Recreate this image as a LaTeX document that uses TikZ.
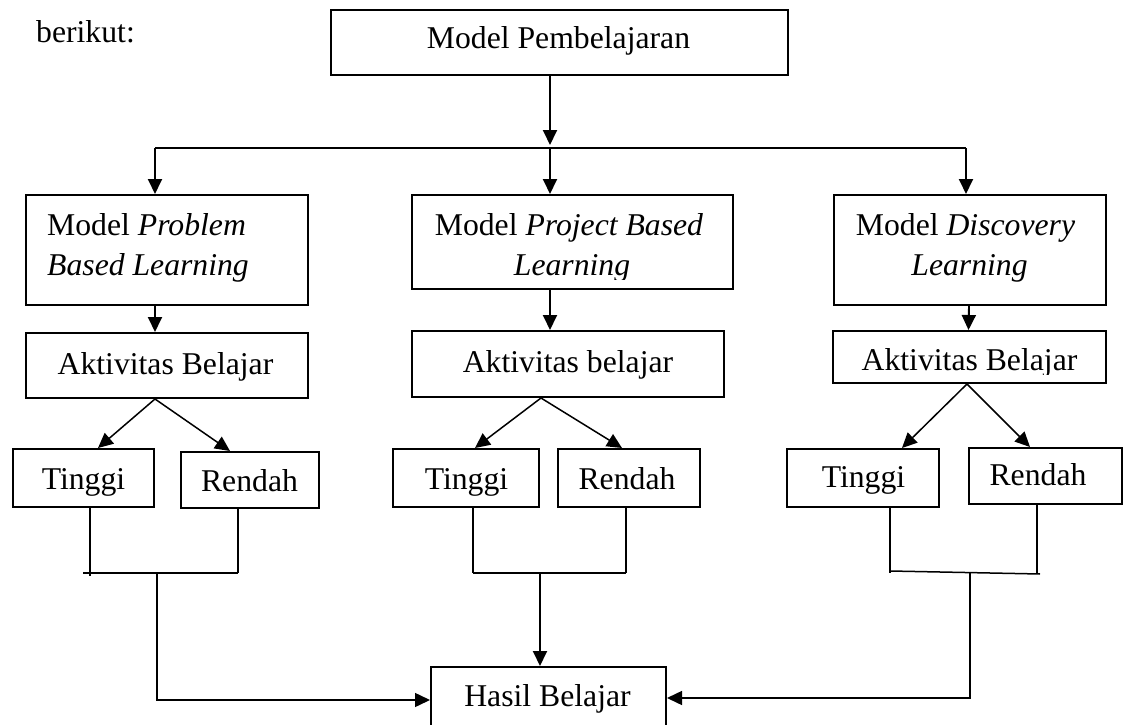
\documentclass[tikz,border=0pt]{standalone}
\usepackage{fontspec}
\setmainfont{Liberation Serif}
\usetikzlibrary{arrows.meta}
\begin{document}
\begin{tikzpicture}[x=1pt,y=-1pt,
  box/.style={draw=black,line width=2pt,rectangle,inner sep=0pt},
  txt/.style={inner sep=0pt,font=\fontsize{31.7}{40}\selectfont,anchor=base},
  ln/.style={draw=black,line width=1.9pt},
  thin/.style={draw=black,line width=1.5pt},
  arr/.style={ln,-{Triangle[length=15pt,width=14pt]}},
  arrt/.style={thin,-{Triangle[length=15pt,width=14pt]}}]
\useasboundingbox (0,0) rectangle (1128,725);
% texts and boxes
\node[txt,anchor=base west] (intro) at (36,43) {berikut:};
\node[box,minimum width=457pt,minimum height=65pt] (top) at (559.5,42.5) {};
\node[txt] (topt) at (558.5,49) {Model Pembelajaran};

\node[box,minimum width=282pt,minimum height=110pt] (pbl) at (167,250) {};
\node[txt,anchor=base west] (pblt1) at (47,235) {Model \textit{Problem}};
\node[txt,anchor=base west] (pblt2) at (47,275) {\textit{Based Learning}};

\node[box,minimum width=321pt,minimum height=94pt] (pjbl) at (572.5,242) {};
\node[txt] (pjblt1) at (569,235) {Model \textit{Project Based}};
\begin{scope}
\clip (420,240) rectangle (725,279);
\node[txt] (pjblt2) at (572,275) {\textit{Learning}};
\end{scope}

\node[box,minimum width=272pt,minimum height=110pt] (dl) at (970,250) {};
\node[txt] (dlt1) at (965.5,235) {Model \textit{Discovery}};
\node[txt] (dlt2) at (969.5,275) {\textit{Learning}};

\node[box,minimum width=282pt,minimum height=65pt] (a1) at (167,365.5) {};
\node[txt] (a1t) at (165.5,374) {Aktivitas Belajar};
\node[box,minimum width=312pt,minimum height=66pt] (a2) at (568,364) {};
\node[txt] (a2t) at (568,372) {Aktivitas belajar};
\node[box,minimum width=273pt,minimum height=52pt] (a3) at (969.5,357) {};
\begin{scope}
\clip (840,335) rectangle (1100,374);
\node[txt] (a3t) at (969.5,370) {Aktivitas Belajar};
\end{scope}

\node[box,minimum width=141pt,minimum height=58pt] (t1) at (83.5,478) {};
\node[txt] (t1t) at (83.5,489) {Tinggi};
\node[box,minimum width=138pt,minimum height=56pt] (r1) at (250,480) {};
\node[txt] (r1t) at (249.5,491) {Rendah};
\node[box,minimum width=146pt,minimum height=58pt] (t2) at (466,478) {};
\node[txt] (t2t) at (466.5,489) {Tinggi};
\node[box,minimum width=142pt,minimum height=58pt] (r2) at (629,478) {};
\node[txt] (r2t) at (627,489) {Rendah};
\node[box,minimum width=152pt,minimum height=58pt] (t3) at (863,478) {};
\node[txt] (t3t) at (863.5,487) {Tinggi};
\node[box,minimum width=153pt,minimum height=56pt] (r3) at (1045.5,476) {};
\node[txt] (r3t) at (1038,485) {Rendah};

\node[box,minimum width=235pt,minimum height=66pt] (hasil) at (548.5,700) {};
\node[txt] (hasilt) at (547.5,706) {Hasil Belajar};

% top distribution
\coordinate (hl) at (155,148);
\coordinate (hm) at (550,148);
\coordinate (hr) at (966,148);
\draw[arr] (top.south -| hm) -- ([yshift=3pt]hm);
\draw[ln] (hl) -- (hr);
\draw[arr] (hl) -- (hl |- pbl.north);
\draw[arr] (hm) -- (hm |- pjbl.north);
\draw[arr] (hr) -- (hr |- dl.north);

% model -> aktivitas
\draw[arr] (pbl.south -| hl) -- (a1.north -| hl);
\draw[arr] (pjbl.south -| hm) -- (a2.north -| hm);
\draw[arr] ([xshift=-1pt]dl.south) -- ([xshift=-1pt]a3.north);

% aktivitas -> tinggi / rendah
\draw[arrt] ([xshift=-12pt]a1.south) -- ([xshift=14.5pt]t1.north);
\draw[arrt] ([xshift=-12pt]a1.south) -- ([xshift=-20pt]r1.north);
\draw[arrt] ([xshift=-27pt]a2.south) -- ([xshift=9pt]t2.north);
\draw[arrt] ([xshift=-27pt]a2.south) -- ([xshift=-7pt]r2.north);
\draw[arrt] ([xshift=-2.5pt]a3.south) -- ([xshift=39pt]t3.north);
\draw[arrt] ([xshift=-2.5pt]a3.south) -- ([xshift=-15.5pt]r3.north);

% joins column 1
\coordinate (m1l) at (83,573);
\coordinate (m1r) at (238,573);
\coordinate (m1) at (157,573);
\draw[thin] ([xshift=6.5pt]t1.south) -- ([xshift=6.5pt,yshift=-3pt]t1.south |- m1l);
\draw[thin] ([xshift=-12pt]r1.south) -- ([xshift=-12pt]r1.south |- m1r);
\draw[thin] (m1l) -- (m1r);
\draw[arrt] (m1) |- (hasil.west);

% joins column 2
\coordinate (m2l) at (473,573);
\coordinate (m2r) at (626,573);
\coordinate (m2) at (540,573);
\draw[thin] ([xshift=7pt]t2.south) -- ([xshift=7pt]t2.south |- m2l);
\draw[thin] ([xshift=-3pt]r2.south) -- ([xshift=-3pt]r2.south |- m2r);
\draw[thin] (m2l) -- (m2r);
\draw[arr] (m2) -- (m2 |- hasil.north);

% joins column 3
\coordinate (m3l) at (890,571);
\coordinate (m3r) at (1040,574);
\coordinate (m3) at (970,573);
\draw[thin] ([xshift=27pt]t3.south) -- ([xshift=27pt,yshift=-2pt]t3.south |- m3l);
\draw[thin] ([xshift=-8.5pt]r3.south) -- ([xshift=-8.5pt]r3.south |- m3r);
\draw[thin] (m3l) -- (m3r);
\draw[arrt] (m3) |- ([yshift=2pt]hasil.east);
\end{tikzpicture}
\end{document}
